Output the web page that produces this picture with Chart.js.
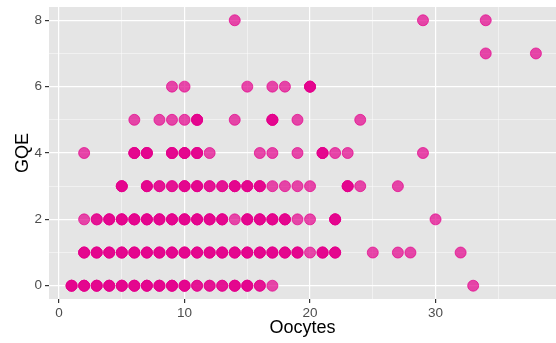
<!DOCTYPE html>
<html>
<head>
<meta charset="utf-8">
<script src="https://cdn.jsdelivr.net/npm/chart.js@4"></script>
<style>
  html, body { margin: 0; padding: 0; background: #fff; }
  #wrap { width: 556px; height: 343px; }
</style>
</head>
<body>
<div id="wrap"><canvas id="chart"></canvas></div>
<script>
// number of oocytes per GQE level, and how many records share that spot
const gqe0Oocytes = [1, 2, 3, 4, 5, 6, 7, 8, 9, 10, 11, 12, 13, 14, 15, 16, 17, 33];
const gqe0Counts  = [3, 3, 3, 3, 3, 3, 3, 3, 3, 3, 2, 2, 2, 3, 3, 2, 1, 1];
const gqe1Oocytes = [2, 3, 4, 5, 6, 7, 8, 9, 10, 11, 12, 13, 14, 15, 16, 17, 18, 19, 20, 21, 22, 25, 27, 28, 32];
const gqe1Counts  = [3, 3, 3, 3, 3, 3, 3, 3, 3, 3, 3, 3, 3, 3, 3, 3, 3, 3, 1, 3, 3, 1, 1, 1, 1];
const gqe2Oocytes = [2, 3, 4, 5, 6, 7, 8, 9, 10, 11, 12, 13, 14, 15, 16, 17, 18, 19, 20, 22, 30];
const gqe2Counts  = [1, 2, 3, 3, 3, 3, 3, 3, 3, 3, 3, 3, 1, 3, 3, 3, 3, 1, 1, 3, 1];
const gqe3Oocytes = [5, 7, 8, 9, 10, 11, 12, 13, 14, 15, 16, 17, 18, 19, 20, 23, 24, 27];
const gqe3Counts  = [3, 3, 2, 2, 3, 3, 2, 2, 3, 3, 3, 1, 1, 1, 1, 3, 1, 1];
const gqe4Oocytes = [2, 6, 7, 9, 10, 11, 12, 16, 17, 19, 21, 22, 23, 29];
const gqe4Counts  = [1, 3, 3, 3, 3, 3, 1, 1, 1, 1, 3, 1, 1, 1];
const gqe5Oocytes = [6, 8, 9, 10, 11, 14, 17, 19, 24];
const gqe5Counts  = [1, 1, 1, 1, 3, 1, 3, 1, 1];
const gqe6Oocytes = [9, 10, 15, 17, 18, 20];
const gqe6Counts  = [1, 1, 1, 1, 1, 3];
const gqe7Oocytes = [34, 38];
const gqe7Counts  = [1, 1];
const gqe8Oocytes = [14, 29, 34];
const gqe8Counts  = [1, 1, 1];

const xTicks = [0, 10, 20, 30];
const yTicks = [0, 2, 4, 6, 8];

const rows = [
    [gqe0Oocytes, gqe0Counts], [gqe1Oocytes, gqe1Counts], [gqe2Oocytes, gqe2Counts],
    [gqe3Oocytes, gqe3Counts], [gqe4Oocytes, gqe4Counts], [gqe5Oocytes, gqe5Counts],
    [gqe6Oocytes, gqe6Counts], [gqe7Oocytes, gqe7Counts], [gqe8Oocytes, gqe8Counts]
];

// one point per record, so overlapping records darken like in the original
const points = [];
rows.forEach(([xs, counts], level) => {
    xs.forEach((x, i) => {
        for (let k = 0; k < counts[i]; k++) points.push({ x: x, y: level });
    });
});

const FONT = "'Liberation Sans', Arial, sans-serif";

// grey panel behind the plot
const panelBg = {
    id: 'panelBg',
    beforeDraw(chart) {
        const { ctx, chartArea: a } = chart;
        ctx.save();
        ctx.fillStyle = '#E5E5E5';
        ctx.fillRect(a.left, a.top, a.right - a.left, a.bottom - a.top);
        ctx.restore();
    }
};

// major + minor gridlines: a tick every `step`, labels only on the majors
const withMinor = (step) => (scale) => {
    const lo = Math.ceil(scale.min / step) * step;
    const ticks = [];
    for (let v = lo; v <= scale.max; v += step) ticks.push({ value: v });
    scale.ticks = ticks;
};

const isMajor = (v, list) => list.includes(v);

new Chart(document.getElementById('chart').getContext('2d'), {
    type: 'scatter',
    data: {
        datasets: [{
            data: points,
            backgroundColor: 'rgba(228, 0, 139, 0.7)',
            borderColor: 'rgba(228, 0, 139, 0.7)',
            borderWidth: 1,
            pointRadius: 5.5,
            pointHoverRadius: 5.5
        }]
    },
    options: {
        responsive: true,
        maintainAspectRatio: false,
        animation: false,
        layout: { autoPadding: false, padding: { top: 7, right: 0, left: 0, bottom: 0 } },
        plugins: { legend: { display: false }, tooltip: { enabled: false } },
        scales: {
            x: {
                type: 'linear',
                min: -0.8,
                max: 39.6,
                afterBuildTicks: withMinor(5),
                afterFit: (scale) => { scale.height = 44; },
                border: { display: false },
                grid: {
                    color: (c) => isMajor(c.tick.value, xTicks) ? '#FFFFFF' : 'rgba(255,255,255,0.75)',
                    lineWidth: (c) => isMajor(c.tick.value, xTicks) ? 1.2 : 0.6,
                    tickColor: (c) => isMajor(c.tick.value, xTicks) ? '#333333' : 'rgba(0,0,0,0)',
                    tickLength: 4
                },
                ticks: {
                    autoSkip: false,
                    maxRotation: 0,
                    padding: 2,
                    color: '#4D4D4D',
                    font: { family: FONT, size: 13.5 },
                    callback: (v) => isMajor(v, xTicks) ? String(v) : ''
                },
                title: {
                    display: true,
                    text: 'Oocytes',
                    color: '#000000',
                    font: { family: FONT, size: 18 },
                    padding: { top: 0, bottom: 4 }
                }
            },
            y: {
                type: 'linear',
                min: -0.4,
                max: 8.4,
                afterBuildTicks: withMinor(1),
                afterFit: (scale) => {
                    scale.width = 49;
                    scale.paddingTop = 0;
                    scale.paddingBottom = 0;
                },
                border: { display: false },
                grid: {
                    color: (c) => isMajor(c.tick.value, yTicks) ? '#FFFFFF' : 'rgba(255,255,255,0.75)',
                    lineWidth: (c) => isMajor(c.tick.value, yTicks) ? 1.2 : 0.6,
                    tickColor: (c) => isMajor(c.tick.value, yTicks) ? '#333333' : 'rgba(0,0,0,0)',
                    tickLength: 4
                },
                ticks: {
                    autoSkip: false,
                    padding: 3,
                    color: '#4D4D4D',
                    font: { family: FONT, size: 13.5 },
                    callback: (v) => isMajor(v, yTicks) ? String(v) : ''
                },
                title: {
                    display: true,
                    text: 'GQE',
                    color: '#000000',
                    font: { family: FONT, size: 18 },
                    padding: { top: 12, bottom: 0 }
                }
            }
        }
    },
    plugins: [panelBg]
});
</script>
</body>
</html>
